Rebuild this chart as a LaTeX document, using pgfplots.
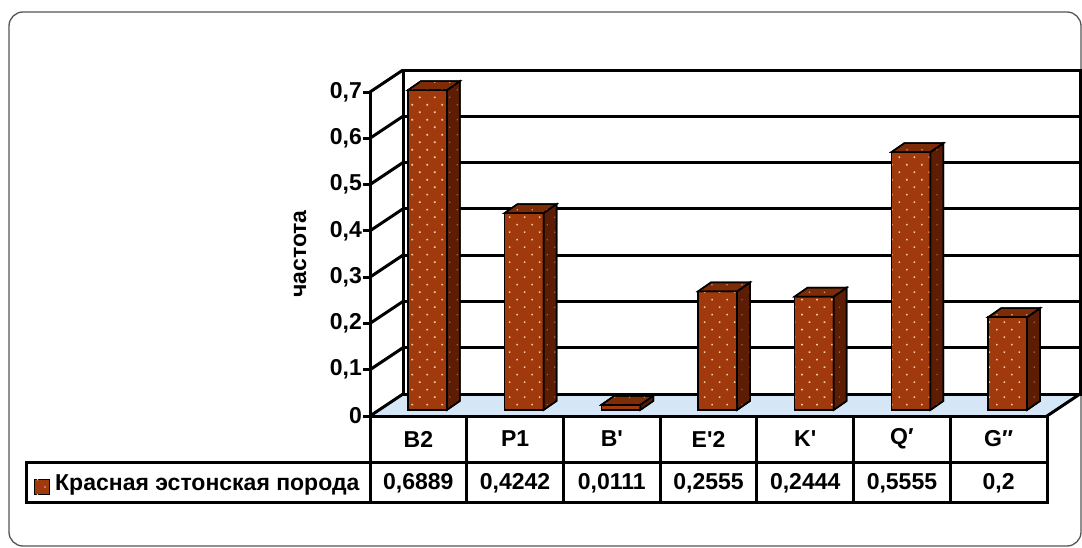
\documentclass[border=0pt]{standalone}
\usepackage{fontspec}
\setmainfont{Liberation Sans}[Ligatures=TeXOff]
\usepackage{pgfplots}
\pgfplotsset{compat=1.18}
\usepackage{pgfplotstable}
\usetikzlibrary{patterns.meta}

\definecolor{barfront}{HTML}{A0390C}
\definecolor{barside}{HTML}{5C1D04}
\definecolor{bartop}{HTML}{7E2C07}
\definecolor{dotc}{HTML}{F8D2B0}
\definecolor{dotdark}{HTML}{A8603A}
\definecolor{floorc}{HTML}{D5E7F6}
\definecolor{framec}{HTML}{555555}

\newcommand\lblfont{\fontsize{23}{27}\selectfont\bfseries}

% frequencies, Red Estonian breed
\pgfplotstableread{
idx cat v
0 B2 0.6889
1 P1 0.4242
2 B' 0.0111
3 E'2 0.2555
4 K' 0.2444
5 Q′ 0.5555
6 G″ 0.2
}\freq

\tikzset{
  thickline/.style={black, line width=3pt},
  frontface/.style={draw=black, line width=1.5pt, fill=barfront,
    postaction={pattern={Dots[distance=10.6pt,angle=45,radius=1.1pt]}, pattern color=dotc}},
  sideface/.style={draw=black, line width=1.5pt, fill=barside,
    postaction={pattern={Dots[distance=10.6pt,angle=45,radius=0.9pt]}, pattern color=dotdark}},
  topface/.style={draw=black, line width=1.5pt, fill=bartop,
    postaction={pattern={Dots[distance=10.6pt,angle=45,radius=0.9pt]}, pattern color=dotc!70!bartop}},
}

\begin{document}
\begin{tikzpicture}[x=1pt,y=1pt]
\useasboundingbox (0,0) rectangle (1082,547);
\draw[framec, line width=1.3pt, rounded corners=14pt] (9,1) rectangle (1081,535);

% floor and side wall
\fill[floorc] (370,131) -- (1047,131) -- (1080,153) -- (403,153) -- cycle;
\foreach \k in {0,...,7}
  \draw[thickline] (370,{131+46.29*\k}) -- (403,{153+46.29*\k});
\draw[thickline] (1047,131) -- (1080,153);

% back wall
\begin{axis}[at={(403pt,153pt)}, anchor=south west, scale only axis,
  width=677pt, height=324pt,
  xmin=0, xmax=1, ymin=0, ymax=0.7,
  xtick=\empty, ytick={0,0.1,0.2,0.3,0.4,0.5,0.6,0.7}, yticklabels={},
  major tick length=0pt,
  ymajorgrids, grid style={thickline},
  axis line style={thickline},
  axis background/.style={fill=white}]
\end{axis}

% front value axis
\begin{axis}[at={(370pt,131pt)}, anchor=south west, scale only axis,
  width=677pt, height=324pt,
  xmin=0, xmax=1, ymin=0, ymax=0.7,
  axis x line=none, axis y line*=left,
  xtick=\empty, ytick={0,0.1,0.2,0.3,0.4,0.5,0.6,0.7},
  tick align=outside, major tick length=7pt,
  tick style={thickline}, axis line style={thickline},
  /pgf/number format/assume math mode=true,
  /pgf/number format/use comma,
  /pgf/number format/fixed,
  /pgf/number format/precision=1,
  yticklabel style={font=\lblfont, inner sep=1pt},
  ylabel={частота},
  every axis y label/.style={at={(axis description cs:-0.1034,0.5)},
    rotate=90, anchor=center, font=\lblfont}]
\end{axis}

% data table under the plot
\draw[thickline] (26,45) rectangle (1047,85);
\draw[thickline] (370,85) rectangle (1047,131);
\foreach \k in {0,...,7}
  \draw[thickline] ({370+96.714*\k},45) -- ({370+96.714*\k},131);
\draw[black, line width=1pt, fill=barfront,
  postaction={pattern={Dots[distance=10.6pt,angle=45,radius=1pt]}, pattern color=dotc}]
  (34,53) rectangle (49,68);
\node[anchor=west, inner sep=0pt] at (55,62) {\lblfont Красная эстонская порода};
\foreach \k in {0,...,6}{
  \pgfplotstablegetelem{\k}{cat}\of{\freq}
  \node at ({370+96.714*(\k+0.5)},108) {\lblfont\pgfplotsretval};
  \pgfplotstablegetelem{\k}{v}\of{\freq}
  \node at ({370+96.714*(\k+0.5)},64) {\lblfont\pgfmathprintnumber[fixed, use comma, precision=4, assume math mode=true]{\pgfplotsretval}};
}

% columns
\begin{axis}[at={(379pt,137pt)}, anchor=south west, scale only axis,
  width=677pt, height=325pt,
  xmin=-0.5, xmax=6.5, ymin=0, ymax=0.7,
  hide axis, clip=false]
\addplot[ybar, bar width=39pt, frontface] table[x=idx, y=v] {\freq};
\pgfplotsforeachungrouped \i in {0,...,6}{%
  \pgfplotstablegetelem{\i}{v}\of{\freq}%
  \pgfmathsetmacro\xa{\i+0.2016}%
  \pgfmathsetmacro\xb{\i+0.2016+0.1344}%
  \pgfmathsetmacro\xc{\i-0.2016}%
  \pgfmathsetmacro\xd{\i-0.2016+0.1344}%
  \pgfmathsetmacro\ya{\pgfplotsretval+0.0194}%
  \edef\temp{%
    \noexpand\addplot[sideface] coordinates {(\xa,0) (\xb,0.0194) (\xb,\ya) (\xa,\pgfplotsretval)} -- cycle;
    \noexpand\addplot[topface] coordinates {(\xc,\pgfplotsretval) (\xa,\pgfplotsretval) (\xb,\ya) (\xd,\ya)} -- cycle;
  }%
  \temp
}
\end{axis}
\end{tikzpicture}
\end{document}
